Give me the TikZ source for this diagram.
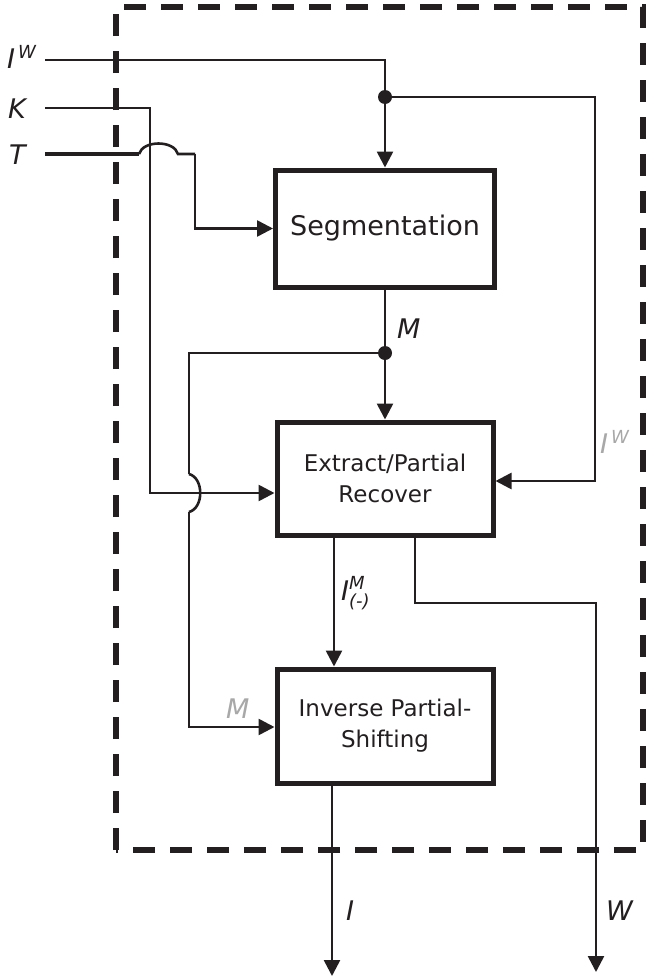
\documentclass[tikz,border=0pt]{standalone}
\usepackage{fontspec}
\setmainfont{DejaVu Sans}
\setsansfont{DejaVu Sans}
\usetikzlibrary{arrows.meta,calc}
\definecolor{ink}{HTML}{231F20}
\definecolor{soft}{HTML}{A8A8A8}
\newcommand{\lblsize}{\fontsize{27}{29}\selectfont\itshape}
\newcommand{\supsize}{\fontsize{18}{19}\selectfont\itshape}
\begin{document}
\begin{tikzpicture}[x=1pt,y=-1pt,
  block/.style={draw=ink,line width=5pt,fill=white,inner sep=0pt,align=center,text=ink},
  wire/.style={draw=ink,line width=2.6pt},
  arr/.style={wire,-{Triangle[length=16pt,width=16pt]}},
  lbl/.style={inner sep=0pt,text=ink,font=\lblsize},
  glbl/.style={inner sep=0pt,text=soft,font=\lblsize},
  junction/.style={circle,fill=ink,inner sep=0pt,minimum size=14pt},
  frame/.style={draw=ink,line width=5.5pt,dash pattern=on 22pt off 15pt}]
\useasboundingbox (0,0) rectangle (646,980);

% dashed system boundary
\draw[frame] (116,850) -- (116,7) -- (643,7) -- (643,850) -- cycle;

% processing blocks
\node[block,minimum width=219pt,minimum height=117pt,font=\fontsize{27}{30}\selectfont] (seg) at (385,228.5) {Segmentation};
\node[block,minimum width=216pt,minimum height=113pt,font=\fontsize{23}{31}\selectfont] (ext) at (385,478.5) {Extract/Partial\\Recover};
\node[block,minimum width=216pt,minimum height=114pt,font=\fontsize{23}{31}\selectfont] (inv) at (385,726) {Inverse Partial-\\Shifting};

% helper points
\coordinate (iwin) at (45,60);
\coordinate (kin) at (45,108);
\coordinate (tin) at (45,154);
\coordinate (tb) at (139,154);
\coordinate (ta) at (178,154);
\coordinate (tc) at (195,154);
\coordinate (kx) at (150,493);
\coordinate (fb) at (595,97);
\coordinate (fe) at (595,481);
\coordinate (mx) at (189,353);
\coordinate (mb) at (189,474);
\coordinate (ma) at (189,512);
\coordinate (mc) at (189,727);
\coordinate (xa) at (334,0);
\coordinate (xw) at (415,603);
\coordinate (wout) at (596,972);
\coordinate (iout) at (332,976);

% junctions
\node[junction] (j1) at (385,97) {};
\node[junction] (j2) at (385,353) {};

% I^W into segmentation and fed back to extraction
\draw[arr] (iwin) -| (seg.north);
\draw[arr] (j1.center) -| (fb) |- (ext.east |- fe);

% key K into extraction
\draw[arr] (kin) -| (kx) -- (ext.west |- kx);

% threshold T, hopping over the K wire
\draw[ink,line width=3.8pt] (tin) -- (tb);
\draw[wire] (tb) .. controls (143,140) and (174,140) .. (ta) -- (tc);
\draw[arr] (tc) |- (seg.west);

% mask M
\draw[wire] (seg.south) -- (j2.center);
\draw[arr] (j2.center) -- (ext.north);
\draw[wire] (j2.center) -- (mx) -- (mb);
\draw[wire] (mb) .. controls (204,478) and (204,508) .. (ma);
\draw[arr] (ma) -- (mc) -- (inv.west |- mc);

% outputs of extraction
\draw[arr] (ext.south -| xa) -- (inv.north -| xa);
\draw[arr] (ext.south -| xw) -- (xw) -| (wout);
\draw[arr] (inv.south -| iout) -- (iout);

% labels
\node[lbl,anchor=base west] (liw) at (7,68) {I\raisebox{10pt}{\supsize\,W}};
\node[lbl,anchor=base west] (lk) at (8,118) {K};
\node[lbl,anchor=base west] (lt) at (9,164) {T};
\node[lbl,anchor=base west] (lm) at (397,338) {M};
\node[lbl,anchor=base west] (lim) at (341,600) {I\makebox[0pt][l]{\raisebox{11pt}{\supsize M}}\raisebox{-7pt}{\supsize (-)}};
\node[glbl,anchor=base west] (giw) at (600,453) {I\raisebox{10pt}{\supsize\,W}};
\node[glbl,anchor=base west] (gm) at (226,718) {M};
\node[lbl,anchor=base west] (li) at (346,920) {I};
\node[lbl,anchor=base west] (lw) at (606,920) {W};
\end{tikzpicture}
\end{document}
